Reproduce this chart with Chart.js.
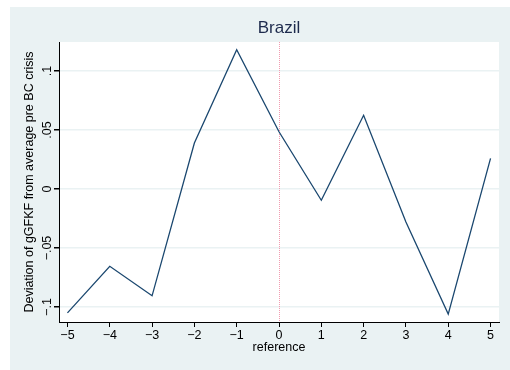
<!DOCTYPE html>
<html>
<head>
<meta charset="utf-8">
<script src="https://cdn.jsdelivr.net/npm/chart.js@4/dist/chart.umd.min.js"></script>
<style>
  html, body { margin: 0; padding: 0; background: #fff; }
  #wrap { width: 510px; height: 370px; }
</style>
</head>
<body>
<div id="wrap"><canvas id="brazilChart" width="510" height="370"></canvas></div>
<script>
// event time relative to the BC crisis
const periods = [-5, -4, -3, -2, -1, 0, 1, 2, 3, 4, 5];
// deviation of gGFKF from its pre-crisis average
const gfkfDeviation = [-0.105, -0.0655, -0.0905, 0.039, 0.118, 0.0485, -0.0095, 0.0625, -0.028, -0.106, 0.026];

const xTickValues = [-5, -4, -3, -2, -1, 0, 1, 2, 3, 4, 5];
const xTickLabels = ['\u22125', '\u22124', '\u22123', '\u22122', '\u22121', '0', '1', '2', '3', '4', '5'];
const yTickValues = [-0.1, -0.05, 0, 0.05, 0.1];
const yTickLabels = ['\u2212.1', '\u2212.05', '0', '.05', '.1'];
const crisisLine = 0;

const FONT = 'Liberation Sans, Arial, sans-serif';
const AXIS_FONT = { family: FONT, size: 12.5 };

// graph region + white plot region + dotted crisis marker
const stataBackground = {
    id: 'stataBackground',
    beforeDraw(chart) {
        const { ctx, chartArea } = chart;
        ctx.save();
        ctx.fillStyle = '#eaf2f3';
        ctx.fillRect(10, 7, chart.width - 10, chart.height - 7);
        ctx.fillStyle = '#ffffff';
        ctx.fillRect(chartArea.left, chartArea.top, chartArea.right - chartArea.left, chartArea.bottom - chartArea.top);
        ctx.restore();
    },
    beforeDatasetsDraw(chart) {
        const { ctx, chartArea } = chart;
        const x = Math.round(chart.scales.x.getPixelForValue(crisisLine)) + 0.5;
        ctx.save();
        ctx.strokeStyle = '#f29bb0';
        ctx.lineWidth = 1;
        ctx.setLineDash([1, 1]);
        ctx.beginPath();
        ctx.moveTo(x, chartArea.top);
        ctx.lineTo(x, chartArea.bottom);
        ctx.stroke();
        ctx.restore();
    }
};

new Chart(document.getElementById('brazilChart'), {
    type: 'line',
    data: {
        labels: periods,
        datasets: [{
            data: periods.map((p, i) => ({ x: p, y: gfkfDeviation[i] })),
            borderColor: '#1a476f',
            borderWidth: 1.3,
            pointRadius: 0,
            tension: 0,
            fill: false
        }]
    },
    options: {
        responsive: false,
        animation: false,
        layout: { padding: { left: 0, top: 0, right: 11, bottom: 0 } },
        plugins: {
            legend: { display: false },
            tooltip: { enabled: false },
            title: {
                display: true,
                text: 'Brazil',
                fullSize: false,
                color: '#1e2b4d',
                font: { family: FONT, size: 17, weight: 'normal' },
                padding: { top: 18, bottom: 3.6 }
            }
        },
        scales: {
            x: {
                type: 'linear',
                min: -5.2,
                max: 5.2,
                afterBuildTicks: s => { s.ticks = xTickValues.map(v => ({ value: v })); },
                afterFit: s => { s.height = 48; },
                grid: { drawOnChartArea: false, drawTicks: true, tickLength: 5, tickColor: '#000' },
                border: { color: '#000', width: 1 },
                ticks: {
                    color: '#000',
                    font: AXIS_FONT,
                    padding: 1,
                    maxRotation: 0,
                    callback: v => xTickLabels[xTickValues.indexOf(v)]
                },
                title: {
                    display: true,
                    text: 'reference',
                    color: '#000',
                    font: AXIS_FONT,
                    padding: { top: 0, bottom: 14.5 }
                }
            },
            y: {
                min: -0.1127,
                max: 0.1246,
                afterBuildTicks: s => { s.ticks = yTickValues.map(v => ({ value: v })); },
                afterFit: s => { s.width = 59; },
                grid: { color: '#eaf2f3', lineWidth: 1.5, tickLength: 5, tickColor: '#000' },
                border: { color: '#000', width: 1 },
                ticks: {
                    color: '#000',
                    font: AXIS_FONT,
                    minRotation: 90,
                    maxRotation: 90,
                    crossAlign: 'center',
                    padding: -5.5,
                    callback: v => yTickLabels[yTickValues.findIndex(t => Math.abs(t - v) < 1e-9)]
                },
                title: {
                    display: true,
                    text: 'Deviation of gGFKF from average pre BC crisis',
                    color: '#000',
                    font: AXIS_FONT,
                    padding: { top: 22.5, bottom: 0 }
                }
            }
        }
    },
    plugins: [stataBackground]
});
</script>
</body>
</html>
